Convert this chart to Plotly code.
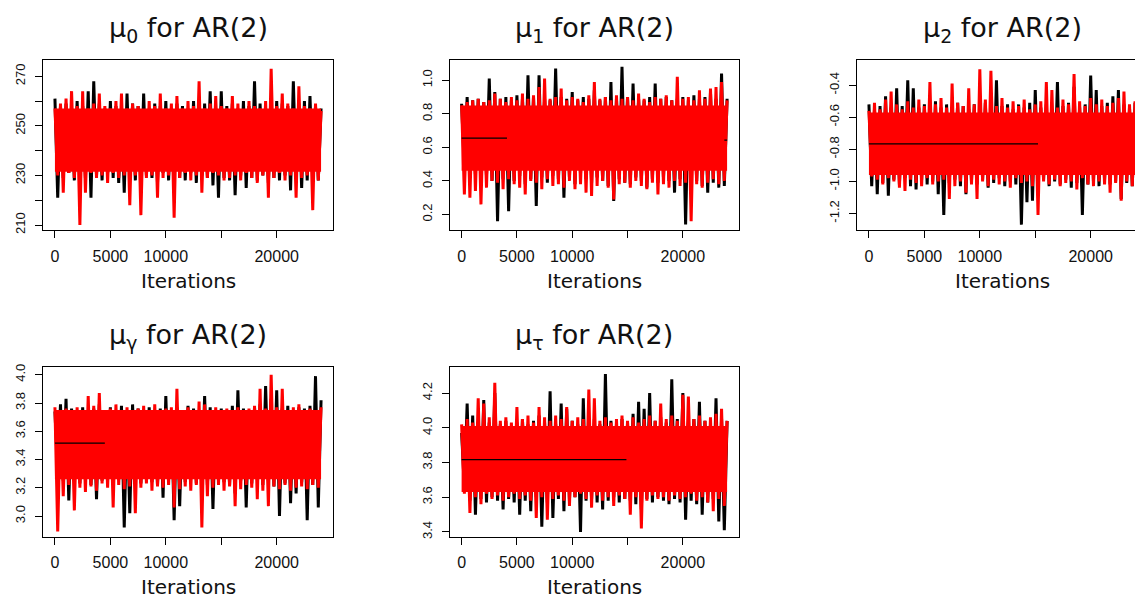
import numpy as np
import plotly.graph_objects as go

# Thinned MCMC iteration index (one sample every 250 iterations, 0..24000)
iterations = np.arange(0, 24001, 250)

# ---------------- mu0 ----------------
mu0_black_hi = [261, 258, 259, 257, 260, 258, 264, 268, 259, 257, 260, 258, 257, 263, 259, 258, 263,
                257, 259, 258, 260, 257, 259, 258, 257, 260, 258, 259, 264, 257, 264, 258, 259, 257,
                260, 258, 268, 259, 257, 258, 260, 259, 258, 268, 259, 260, 262, 258, 257]
mu0_black_lo = [221, 229, 231, 228, 230, 229, 221, 230, 228, 231, 229, 227, 223, 230, 228, 225, 230,
                229, 227, 231, 228, 230, 229, 228, 231, 227, 230, 229, 226, 221, 229, 228, 222, 230,
                225, 229, 228, 230, 227, 229, 228, 230, 224, 229, 225, 228, 230, 228]
mu0_red_hi = [257, 259, 261, 264, 258, 264, 257, 259, 263, 258, 257, 260, 263, 257, 259, 258, 256,
              260, 258, 263, 257, 259, 262, 257, 260, 258, 268, 257, 259, 262, 258, 257, 262, 259,
              256, 260, 258, 257, 260, 273, 258, 263, 259, 257, 266, 258, 257, 259, 256]
mu0_red_lo = [230, 223, 231, 229, 210, 223, 231, 229, 230, 227, 231, 229, 230, 218, 230, 214, 229,
              230, 221, 229, 230, 213, 229, 231, 228, 230, 223, 229, 231, 230, 228, 229, 230, 228,
              231, 229, 227, 230, 221, 229, 231, 228, 230, 221, 229, 230, 216, 228]
mu0_core = [231.5, 257.0]
mu0_flat_start = []
mu0_flat_end = []
mu0_flat_level = []

# ---------------- mu1 ----------------
mu1_black_hi = [0.86, 0.90, 0.88, 0.89, 0.87, 1.01, 0.93, 0.89, 0.90, 0.88, 0.91, 0.89, 1.03, 0.90,
                1.03, 0.89, 0.88, 1.07, 0.90, 0.89, 0.93, 0.88, 0.90, 0.89, 0.94, 0.88, 0.90, 0.99,
                0.89, 1.08, 0.90, 0.98, 0.89, 0.88, 0.90, 0.98, 0.89, 0.90, 0.88, 0.89, 0.90, 0.88,
                0.91, 0.89, 0.90, 0.93, 0.89, 1.04, 0.89]
mu1_black_lo = [0.47, 0.42, 0.44, 0.38, 0.43, 0.40, 0.16, 0.41, 0.22, 0.40, 0.43, 0.38, 0.41, 0.25,
                0.42, 0.39, 0.43, 0.41, 0.30, 0.42, 0.38, 0.44, 0.41, 0.39, 0.42, 0.40, 0.37, 0.28,
                0.41, 0.39, 0.38, 0.42, 0.40, 0.36, 0.41, 0.39, 0.42, 0.40, 0.33, 0.41, 0.14, 0.38,
                0.40, 0.37, 0.33, 0.39, 0.36, 0.37]
mu1_red_hi = [0.85, 0.87, 0.88, 0.89, 0.87, 0.88, 0.92, 0.89, 0.87, 0.90, 0.88, 0.92, 0.89, 0.91,
              0.96, 1.01, 0.89, 0.90, 0.95, 0.88, 0.90, 0.89, 0.87, 0.91, 0.99, 0.89, 0.90, 0.88,
              0.91, 0.89, 0.90, 0.88, 0.92, 0.89, 0.87, 0.90, 0.89, 0.91, 0.88, 1.02, 0.89, 0.90,
              0.88, 0.94, 0.89, 0.95, 0.96, 0.99, 0.88]
mu1_red_lo = [0.32, 0.30, 0.34, 0.26, 0.36, 0.40, 0.39, 0.35, 0.41, 0.38, 0.36, 0.32, 0.40, 0.39,
              0.35, 0.41, 0.37, 0.38, 0.36, 0.40, 0.35, 0.38, 0.33, 0.31, 0.37, 0.40, 0.36, 0.29,
              0.38, 0.39, 0.36, 0.40, 0.37, 0.35, 0.39, 0.32, 0.38, 0.36, 0.40, 0.37, 0.39, 0.16,
              0.38, 0.36, 0.39, 0.41, 0.38, 0.40]
mu1_core = [0.46, 0.85]
mu1_flat_start = [0, 23750]
mu1_flat_end = [4100, 24000]
mu1_flat_level = [0.655, 0.643]

# ---------------- mu2 ----------------
mu2_black_hi = [-0.52, -0.55, -0.53, -0.47, -0.54, -0.42, -0.53, -0.37, -0.42, -0.54, -0.52, -0.55,
                -0.50, -0.54, -0.52, -0.55, -0.51, -0.53, -0.55, -0.52, -0.54, -0.51, -0.55, -0.37,
                -0.53, -0.52, -0.55, -0.52, -0.54, -0.51, -0.43, -0.54, -0.52, -0.55, -0.38, -0.53,
                -0.51, -0.41, -0.54, -0.52, -0.34, -0.43, -0.53, -0.51, -0.47, -0.43, -0.52, -0.54,
                -0.51]
mu2_black_lo = [-1.03, -1.08, -1.01, -1.09, -0.99, -1.02, -0.98, -1.03, -1.05, -0.99, -1.02, -1.00,
                -1.08, -1.21, -1.01, -0.99, -1.03, -1.08, -1.00, -1.02, -0.99, -1.04, -1.01, -0.98,
                -1.03, -1.00, -1.02, -1.27, -1.13, -1.12, -1.01, -0.99, -1.03, -1.00, -1.02, -0.99,
                -1.04, -1.01, -1.21, -1.02, -1.00, -1.03, -0.99, -1.02, -1.00, -1.11, -1.01, -1.03]
mu2_red_hi = [-0.56, -0.51, -0.55, -0.49, -0.44, -0.52, -0.55, -0.50, -0.54, -0.49, -0.53, -0.38,
              -0.52, -0.48, -0.54, -0.39, -0.51, -0.53, -0.42, -0.52, -0.30, -0.49, -0.31, -0.53,
              -0.48, -0.54, -0.50, -0.53, -0.49, -0.55, -0.52, -0.50, -0.38, -0.43, -0.54, -0.49,
              -0.52, -0.33, -0.50, -0.53, -0.48, -0.52, -0.49, -0.53, -0.51, -0.48, -0.44, -0.52,
              -0.50]
mu2_red_lo = [-0.97, -0.99, -1.02, -0.98, -1.00, -1.04, -1.06, -0.99, -1.01, -1.03, -0.98, -1.02,
              -1.00, -0.99, -1.11, -1.03, -1.00, -1.07, -1.02, -1.11, -1.00, -1.03, -0.99, -1.02,
              -1.00, -1.04, -0.98, -1.01, -1.00, -1.03, -1.21, -1.00, -1.02, -0.99, -1.03, -1.01,
              -1.00, -1.05, -0.98, -1.02, -1.03, -1.00, -1.02, -1.07, -1.01, -1.12, -1.00, -1.03]
mu2_core = [-0.96, -0.57]
mu2_flat_start = [0]
mu2_flat_end = [15250]
mu2_flat_level = [-0.766]

# ---------------- mu_gamma ----------------
mug_black_hi = [3.74, 3.79, 3.83, 3.76, 3.74, 3.77, 3.75, 3.76, 3.79, 3.74, 3.77, 3.75, 3.78, 3.74,
                3.79, 3.76, 3.75, 3.77, 3.74, 3.76, 3.85, 3.75, 3.77, 3.74, 3.78, 3.76, 3.75, 3.85,
                3.77, 3.75, 3.76, 3.74, 3.78, 3.89, 3.76, 3.75, 3.77, 3.79, 3.92, 3.83, 3.89, 3.76,
                3.78, 3.75, 3.77, 3.76, 3.78, 3.99, 3.82]
mug_black_lo = [3.30, 3.25, 3.11, 3.27, 3.23, 3.26, 3.22, 3.12, 3.25, 3.27, 3.24, 3.26, 2.92, 3.02,
                3.25, 3.23, 3.27, 3.24, 3.22, 3.13, 3.26, 2.97, 3.07, 3.24, 3.27, 3.23, 3.25, 3.22,
                3.05, 3.26, 3.24, 3.22, 3.16, 3.25, 3.06, 3.23, 3.26, 3.22, 3.25, 3.21, 3.00, 3.23,
                3.09, 3.16, 3.24, 2.97, 3.22, 3.06]
mug_red_hi = [3.77, 3.73, 3.76, 3.74, 3.77, 3.75, 3.85, 3.78, 3.87, 3.74, 3.76, 3.79, 3.75, 3.77,
              3.74, 3.76, 3.78, 3.75, 3.79, 3.74, 3.76, 3.77, 3.90, 3.75, 3.77, 3.74, 3.81, 3.79,
              3.75, 3.77, 3.74, 3.76, 3.75, 3.77, 3.74, 3.76, 3.78, 3.90, 3.76, 4.00, 3.77, 3.90,
              3.75, 3.77, 3.79, 3.75, 3.76, 3.74, 3.77]
mug_red_lo = [2.89, 3.14, 3.22, 3.04, 3.20, 3.17, 3.21, 3.18, 3.23, 3.20, 3.06, 3.22, 3.19, 3.21,
              3.02, 3.20, 3.23, 3.18, 3.21, 3.20, 3.22, 3.06, 3.19, 3.21, 3.18, 3.22, 2.92, 3.14,
              3.20, 3.22, 3.18, 3.21, 3.07, 3.19, 3.22, 3.20, 3.12, 3.18, 3.07, 3.21, 3.19, 3.22,
              3.18, 3.20, 3.21, 3.19, 3.22, 3.20]
mug_core = [3.26, 3.75]
mug_flat_start = [0]
mug_flat_end = [4500]
mug_flat_level = [3.516]

# ---------------- mu_tau ----------------
mut_black_hi = [3.97, 4.14, 4.07, 4.02, 4.16, 4.03, 4.20, 4.02, 4.04, 4.01, 4.03, 4.05, 4.02, 4.04,
                4.07, 4.03, 4.21, 4.02, 4.14, 4.11, 4.04, 4.02, 4.17, 4.03, 4.05, 4.02, 4.31, 4.04,
                4.02, 4.05, 4.03, 4.08, 4.15, 4.11, 4.20, 4.04, 4.06, 4.03, 4.28, 4.05, 4.20, 4.03,
                4.05, 4.15, 4.04, 4.02, 4.17, 4.05, 4.04]
mut_black_lo = [3.66, 3.58, 3.50, 3.59, 3.57, 3.60, 3.58, 3.53, 3.59, 3.57, 3.50, 3.58, 3.52, 3.60,
                3.43, 3.57, 3.48, 3.59, 3.52, 3.58, 3.60, 3.40, 3.58, 3.59, 3.57, 3.53, 3.58, 3.60,
                3.57, 3.59, 3.58, 3.56, 3.53, 3.59, 3.57, 3.60, 3.58, 3.56, 3.59, 3.57, 3.47, 3.58,
                3.56, 3.50, 3.57, 3.59, 3.46, 3.41]
mut_red_hi = [4.02, 4.05, 4.03, 4.17, 4.14, 4.06, 4.26, 4.04, 4.06, 4.03, 4.12, 4.05, 4.07, 4.03,
              4.12, 4.06, 4.04, 4.07, 4.05, 4.12, 4.04, 4.06, 4.05, 4.22, 4.17, 4.04, 4.06, 4.03,
              4.05, 4.07, 4.04, 4.06, 4.03, 4.05, 4.07, 4.04, 4.14, 4.05, 4.07, 4.04, 4.19, 4.18,
              4.05, 4.07, 4.04, 4.06, 4.08, 4.11, 4.04]
mut_red_lo = [3.62, 3.51, 3.60, 3.56, 3.62, 3.59, 3.61, 3.58, 3.60, 3.62, 3.59, 3.61, 3.58, 3.48,
              3.60, 3.47, 3.59, 3.61, 3.58, 3.55, 3.60, 3.62, 3.59, 3.54, 3.61, 3.58, 3.60, 3.55,
              3.61, 3.59, 3.50, 3.60, 3.42, 3.58, 3.61, 3.59, 3.60, 3.58, 3.61, 3.59, 3.60, 3.62,
              3.58, 3.60, 3.57, 3.52, 3.59, 3.55]
mut_core = [3.63, 4.01]
mut_flat_start = [0]
mut_flat_end = [14900]
mut_flat_level = [3.817]

# axis ticks (labelled / unlabelled)
x_tickvals = [0, 5000, 10000, 20000]
x_ticktext = ["0", "5000", "10000", "20000"]
x_minor_ticks = [15000]

titles = ["μ<sub>0</sub> for AR(2)", "μ<sub>1</sub> for AR(2)", "μ<sub>2</sub> for AR(2)",
          "μ<sub>γ</sub> for AR(2)", "μ<sub>τ</sub> for AR(2)"]

W, H = 1135, 601


def interleave(hi, lo):
    out = []
    for i in range(len(lo)):
        out.append(hi[i])
        out.append(lo[i])
    out.append(hi[-1])
    return out


panels = [
    dict(bh=mu0_black_hi, bl=mu0_black_lo, rh=mu0_red_hi, rl=mu0_red_lo, core=mu0_core,
         fs=mu0_flat_start, fe=mu0_flat_end, fl=mu0_flat_level,
         box=(43.3, 332.7, 56.7, 229.3), yr=[207.9, 276.6], xr=[-1050, 25050],
         yt=[210, 230, 250, 270], ytt=["210", "230", "250", "270"], ym=[220, 240, 260]),
    dict(bh=mu1_black_hi, bl=mu1_black_lo, rh=mu1_red_hi, rl=mu1_red_lo, core=mu1_core,
         fs=mu1_flat_start, fe=mu1_flat_end, fl=mu1_flat_level,
         box=(450.0, 738.7, 56.7, 229.3), yr=[0.106, 1.121], xr=[-1050, 25050],
         yt=[0.2, 0.4, 0.6, 0.8, 1.0], ytt=["0.2", "0.4", "0.6", "0.8", "1.0"], ym=[]),
    dict(bh=mu2_black_hi, bl=mu2_black_lo, rh=mu2_red_hi, rl=mu2_red_lo, core=mu2_core,
         fs=mu2_flat_start, fe=mu2_flat_end, fl=mu2_flat_level,
         box=(857.3, 1135.0, 56.7, 229.3), yr=[-1.305, -0.2425], xr=[-1050, 23996],
         yt=[-1.2, -1.0, -0.8, -0.6, -0.4], ytt=["-1.2", "-1.0", "-0.8", "-0.6", "-0.4"], ym=[]),
    dict(bh=mug_black_hi, bl=mug_black_lo, rh=mug_red_hi, rl=mug_red_lo, core=mug_core,
         fs=mug_flat_start, fe=mug_flat_end, fl=mug_flat_level,
         box=(43.3, 332.7, 368.3, 540.0), yr=[2.853, 4.052], xr=[-1050, 25050],
         yt=[3.0, 3.2, 3.4, 3.6, 3.8, 4.0], ytt=["3.0", "3.2", "3.4", "3.6", "3.8", "4.0"], ym=[]),
    dict(bh=mut_black_hi, bl=mut_black_lo, rh=mut_red_hi, rl=mut_red_lo, core=mut_core,
         fs=mut_flat_start, fe=mut_flat_end, fl=mut_flat_level,
         box=(450.0, 738.7, 368.3, 540.0), yr=[3.372, 4.348], xr=[-1050, 25050],
         yt=[3.4, 3.6, 3.8, 4.0, 4.2], ytt=["3.4", "3.6", "3.8", "4.0", "4.2"], ym=[]),
]

fig = go.Figure()
layout_axes = {}
annotations = []
it0, itN = float(iterations[0]), float(iterations[-1])

for k, p in enumerate(panels):
    sfx = "" if k == 0 else str(k + 1)
    xa, ya = "x" + sfx, "y" + sfx
    common = dict(xaxis=xa, yaxis=ya, showlegend=False, hoverinfo="skip", mode="lines")
    # chain 1 (black)
    fig.add_trace(go.Scatter(x=iterations, y=interleave(p["bh"], p["bl"]),
                             line=dict(color="black", width=3), **common))
    # dense core of chain 2 (red)
    fig.add_trace(go.Scatter(x=[it0, itN, itN, it0, it0],
                             y=[p["core"][0], p["core"][0], p["core"][1], p["core"][1], p["core"][0]],
                             fill="toself", fillcolor="#ff0000", line=dict(width=0, color="#ff0000"),
                             **common))
    # chain 2 (red)
    fig.add_trace(go.Scatter(x=iterations, y=interleave(p["rh"], p["rl"]),
                             line=dict(color="#ff0000", width=3), **common))
    # flat segments
    for s, e, lv in zip(p["fs"], p["fe"], p["fl"]):
        fig.add_trace(go.Scatter(x=[s, e], y=[lv, lv], line=dict(color="black", width=1.2), **common))

    x0, x1, y0, y1 = p["box"]
    dom_x = [x0 / W, min(x1 / W, 1.0)]
    dom_y = [1 - y1 / H, 1 - y0 / H]
    layout_axes["xaxis" + sfx] = dict(
        domain=dom_x, range=p["xr"], anchor=ya, tickvals=x_tickvals, ticktext=x_ticktext,
        ticks="outside", ticklen=7, tickwidth=1.2, tickcolor="black",
        minor=dict(tickvals=x_minor_ticks, ticks="outside", ticklen=7, tickwidth=1.2,
                   tickcolor="black", showgrid=False),
        showline=True, linecolor="black", linewidth=1.2, mirror=True,
        showgrid=False, zeroline=False, ticklabelstandoff=4,
        tickfont=dict(family="Liberation Sans, Arial", size=16, color="#111"))
    ydict = dict(
        domain=dom_y, range=p["yr"], anchor=xa, tickvals=p["yt"], ticktext=p["ytt"],
        tickangle=-90, ticks="outside", ticklen=7, tickwidth=1.2, tickcolor="black",
        showline=True, linecolor="black", linewidth=1.2, mirror=(k != 2),
        showgrid=False, zeroline=False, ticklabelstandoff=5,
        tickfont=dict(family="Liberation Sans, Arial", size=13, color="#111"))
    if p["ym"]:
        ydict["minor"] = dict(tickvals=p["ym"], ticks="outside", ticklen=7, tickwidth=1.2,
                              tickcolor="black", showgrid=False)
    layout_axes["yaxis" + sfx] = ydict
    cx = ((x0 + x1) / 2 if k != 2 else (x0 + 289.4 / 2)) / W
    annotations.append(dict(text=titles[k], x=cx, y=1 - (y0 - 31) / H, xref="paper", yref="paper",
                            xanchor="center", yanchor="middle", showarrow=False,
                            font=dict(family="DejaVu Sans", size=27, color="#111")))
    annotations.append(dict(text="Iterations", x=cx, y=1 - (y1 + 51) / H, xref="paper", yref="paper",
                            xanchor="center", yanchor="middle", showarrow=False,
                            font=dict(family="DejaVu Sans", size=20, color="#111")))

fig.update_layout(width=W, height=H, margin=dict(l=0, r=0, t=0, b=0),
                  paper_bgcolor="white", plot_bgcolor="white",
                  annotations=annotations, **layout_axes)

fig.write_html("out.html")
